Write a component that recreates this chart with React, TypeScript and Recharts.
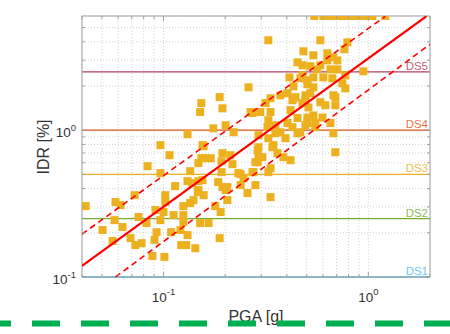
import { ScatterChart, Scatter, XAxis, YAxis, CartesianGrid, ReferenceLine } from "recharts"

const FONT = '"Liberation Sans", Arial, Helvetica, sans-serif'
const AXIS = "#a0a0a0"
const TEXT = "#333333"
const MARKER = "#EDB120"
const RED = "#ff0000"

// [PGA (g), IDR (%)], split roughly by PGA range
const lowPga: [number, number][] = [
  [0.0417, 0.304], [0.0504, 0.209], [0.0564, 0.176], [0.0577, 0.244], [0.0583, 0.324],
  [0.0617, 0.309], [0.0631, 0.219], [0.069, 0.184], [0.0723, 0.361], [0.0729, 0.165],
  [0.0755, 0.256], [0.0782, 0.17], [0.0826, 0.233], [0.0836, 0.569], [0.0883, 0.139],
  [0.0904, 0.179], [0.0914, 0.286], [0.0925, 0.202], [0.0966, 0.791], [0.0966, 0.51],
  [0.0966, 0.244], [0.1, 0.277], [0.101, 0.137], [0.102, 0.361], [0.102, 0.324],
  [0.107, 0.676], [0.109, 0.202], [0.112, 0.264], [0.114, 0.416], [0.121, 0.209],
  [0.122, 0.165], [0.125, 0.304], [0.125, 0.264], [0.125, 0.237], [0.129, 0.165],
  [0.131, 0.94], [0.131, 0.45], [0.131, 0.193], [0.135, 0.526], [0.135, 0.319],
  [0.14, 0.334], [0.143, 0.157], [0.148, 0.597], [0.148, 0.45], [0.148, 0.391],
  [0.151, 0.233], [0.151, 1.33], [0.153, 1.53], [0.155, 0.791], [0.153, 0.645],
  [0.138, 0.436], [0.155, 0.457], [0.147, 0.379], [0.157, 0.361], [0.166, 0.233],
  [0.179, 0.304], [0.185, 0.443], [0.188, 0.184], [0.19, 0.277], [0.194, 0.41],
  [0.201, 0.391], [0.205, 0.334], [0.205, 0.41], [0.232, 0.51], [0.238, 0.423],
  [0.257, 0.373], [0.281, 0.423], [0.272, 0.518], [0.325, 0.518], [0.333, 0.35],
  [0.288, 0.606], [0.417, 0.625],
]

const midPga: [number, number][] = [
  [0.157, 0.778], [0.17, 0.645], [0.175, 1.03], [0.188, 1.68], [0.194, 1.41],
  [0.194, 0.698], [0.16, 0.645], [0.212, 0.676], [0.192, 0.615], [0.217, 0.587],
  [0.192, 0.518], [0.238, 0.502], [0.246, 0.471], [0.201, 1.08], [0.22, 0.969],
  [0.272, 1.31], [0.281, 1.33], [0.288, 0.731], [0.291, 0.925], [0.281, 0.606],
  [0.304, 0.655], [0.333, 0.551], [0.275, 0.518], [0.344, 0.791], [0.36, 0.698],
  [0.385, 0.655], [0.394, 0.882], [0.352, 0.954], [0.322, 1.05], [0.325, 1.17],
  [0.333, 1.33], [0.315, 1.53], [0.403, 1.12], [0.466, 0.969], [0.417, 1.37],
  [0.431, 1.65], [0.477, 1.53], [0.493, 1.08], [0.372, 1.73], [0.325, 0.882],
  [0.26, 1.96], [0.325, 4.1], [0.291, 0.766], [0.291, 0.655], [0.34, 0.766],
  [0.372, 0.969], [0.451, 0.954], [0.352, 1.08], [0.297, 1.33], [0.266, 1.33],
]

const highPga: [number, number][] = [
  [0.482, 3.45], [0.451, 2.9], [0.477, 2.77], [0.412, 2.29], [0.431, 1.99],
  [0.403, 1.79], [0.466, 2.26], [0.504, 2.19], [0.441, 1.68], [0.333, 1.65],
  [0.583, 4.1], [0.79, 3.97], [0.764, 3.56], [0.539, 3.24], [0.631, 3.34],
  [0.675, 3.14], [0.706, 2.99], [0.631, 2.99], [0.583, 2.77], [0.521, 2.73],
  [0.564, 2.6], [0.653, 2.6], [0.706, 2.6], [0.946, 2.52], [0.477, 2.37],
  [0.539, 2.29], [0.603, 2.29], [0.667, 2.26], [0.772, 2.37], [0.539, 1.96],
  [0.504, 2.06], [0.747, 2.09], [0.675, 1.73], [0.772, 1.93], [0.493, 1.73],
  [0.426, 1.6], [0.493, 1.6], [0.521, 1.79], [0.51, 1.43], [0.617, 1.48],
  [0.69, 1.48], [0.69, 1.68], [0.583, 1.55], [0.504, 1.22], [0.451, 1.21],
  [0.551, 1.05], [0.504, 1.12], [0.653, 1.12], [0.675, 0.954], [0.69, 0.708],
  [0.426, 1.05], [0.539, 1.26], [0.597, 1.22], [0.551, 1.12],
]

// records sitting on the top of the IDR axis
const cappedTop: [number, number][] = [
  [0.545, 6], [0.603, 6], [0.653, 6], [0.706, 6], [0.764, 6],
  [0.826, 6], [0.894, 6], [0.966, 6], [1.046, 6], [1.21, 6],
]

// fitted median and +/- one sigma lines (end points)
const medianFit: [number, number][] = [[0.04, 0.119], [1.92, 5.97]]
const upperFit: [number, number][] = [[0.04, 0.196], [1.21, 5.97]]
const lowerFit: [number, number][] = [[0.0583, 0.1], [2, 3.85]]

const xTicks = [0.04, 0.05, 0.06, 0.07, 0.08, 0.09, 0.1, 0.2, 0.3, 0.4, 0.5, 0.6, 0.7, 0.8, 0.9, 1, 2]
const yTicks = [0.1, 0.2, 0.3, 0.4, 0.5, 0.6, 0.7, 0.8, 0.9, 1, 2, 3, 4, 5]
const tickExp: Record<string, string> = { "0.1": "-1", "1": "0" }

const damageStates = [
  { name: "DS1", idr: 0.1, color: "#4DBEEE" },
  { name: "DS2", idr: 0.25, color: "#77AC30" },
  { name: "DS3", idr: 0.5, color: "#EDB120" },
  { name: "DS4", idr: 1, color: "#E0541C" },
  { name: "DS5", idr: 2.5, color: "#B5405E" },
]

const toPoints = (rows: [number, number][]) => rows.map(([pga, idr]) => ({ pga, idr }))
const records = toPoints([...lowPga, ...midPga, ...highPga, ...cappedTop])

type TickProps = { x: number; y: number; payload: { value: number } }

const isMajor = (v: number) => tickExp[String(v)] !== undefined

function BottomTick({ x, y, payload }: TickProps) {
  const v = payload.value
  const major = isMajor(v)
  return (
    <g>
      <line x1={x} x2={x} y1={y} y2={y - (major ? 5 : 3)} stroke={AXIS} />
      {major && (
        <text x={x} y={y + 25} textAnchor="middle" fontSize={13.5} fill={TEXT} fontFamily={FONT}>
          10<tspan dy={-7} fontSize={9.5}>{tickExp[String(v)]}</tspan>
        </text>
      )}
    </g>
  )
}

function TopTick({ x, y, payload }: TickProps) {
  const major = isMajor(payload.value)
  return <line x1={x} x2={x} y1={y} y2={y + (major ? 5 : 3)} stroke={AXIS} />
}

function LeftTick({ x, y, payload }: TickProps) {
  const v = payload.value
  const major = isMajor(v)
  return (
    <g>
      <line x1={x} x2={x + (major ? 5 : 3)} y1={y} y2={y} stroke={AXIS} />
      {major && (
        <text x={x - 6} y={y + 7} textAnchor="end" fontSize={13.5} fill={TEXT} fontFamily={FONT}>
          10<tspan dy={-6} fontSize={9.5}>{tickExp[String(v)]}</tspan>
        </text>
      )}
    </g>
  )
}

function RightTick({ x, y, payload }: TickProps) {
  const major = isMajor(payload.value)
  return <line x1={x} x2={x - (major ? 5 : 3)} y1={y} y2={y} stroke={AXIS} />
}

const squareMarker = (p: any) => <rect x={p.cx - 4} y={p.cy - 4} width={8} height={8} fill={MARKER} />
const noMarker = () => <g />

export default function App() {
  return (
    <div style={{ position: "absolute", left: 0, top: 0, width: 450, height: 334, background: "#fff" }}>
      <ScatterChart width={450} height={334} margin={{ top: 15, right: 19, bottom: 0, left: 0 }}>
        <CartesianGrid stroke="#d2d2d2" strokeDasharray="1 2" />
        <XAxis
          type="number"
          dataKey="pga"
          scale="log"
          domain={[0.04, 2]}
          allowDataOverflow
          ticks={xTicks}
          interval={0}
          height={57}
          tickSize={0}
          tickMargin={0}
          tickLine={false}
          stroke={AXIS}
          tick={BottomTick as any}
        />
        <XAxis
          xAxisId="top"
          orientation="top"
          type="number"
          dataKey="pga"
          scale="log"
          domain={[0.04, 2]}
          allowDataOverflow
          ticks={xTicks}
          interval={0}
          height={1}
          tickSize={0}
          tickMargin={0}
          tickLine={false}
          stroke={AXIS}
          tick={TopTick as any}
        />
        <YAxis
          type="number"
          dataKey="idr"
          scale="log"
          domain={[0.1, 6]}
          allowDataOverflow
          ticks={yTicks}
          interval={0}
          width={82}
          tickSize={0}
          tickMargin={0}
          tickLine={false}
          stroke={AXIS}
          tick={LeftTick as any}
        />
        <YAxis
          yAxisId="right"
          orientation="right"
          type="number"
          dataKey="idr"
          scale="log"
          domain={[0.1, 6]}
          allowDataOverflow
          ticks={yTicks}
          interval={0}
          width={1}
          tickSize={0}
          tickMargin={0}
          tickLine={false}
          stroke={AXIS}
          tick={RightTick as any}
        />
        <Scatter data={records} shape={squareMarker} isAnimationActive={false} />
        {damageStates.map((d) => (
          <ReferenceLine
            key={d.name}
            y={d.idr}
            stroke={d.color}
            strokeWidth={1.3}
            label={{
              value: d.name,
              position: "insideBottomRight",
              offset: 2,
              fill: d.color,
              fillOpacity: 0.85,
              fontSize: 11.5,
              fontFamily: FONT,
            }}
          />
        ))}
        <Scatter
          data={toPoints(upperFit)}
          line={{ stroke: RED, strokeWidth: 1.6, strokeDasharray: "6 4" }}
          lineType="joint"
          shape={noMarker}
          isAnimationActive={false}
        />
        <Scatter
          data={toPoints(lowerFit)}
          line={{ stroke: RED, strokeWidth: 1.6, strokeDasharray: "6 4" }}
          lineType="joint"
          shape={noMarker}
          isAnimationActive={false}
        />
        <Scatter
          data={toPoints(medianFit)}
          line={{ stroke: RED, strokeWidth: 2.2 }}
          lineType="joint"
          shape={noMarker}
          isAnimationActive={false}
        />
      </ScatterChart>
      <svg width={450} height={334} style={{ position: "absolute", left: 0, top: 0, pointerEvents: "none" }}>
        <text
          transform="translate(49 147) rotate(-90)"
          textAnchor="middle"
          fontSize={16}
          fill={TEXT}
          fontFamily={FONT}
        >
          IDR [%]
        </text>
        <text x={256} y={322} textAnchor="middle" fontSize={16} fill={TEXT} fontFamily={FONT}>
          PGA [g]
        </text>
        <line x1={0} x2={450} y1={323.5} y2={323.5} stroke="#00B050" strokeWidth={6} strokeDasharray="28 21" strokeDashoffset={17} />
      </svg>
    </div>
  )
}
